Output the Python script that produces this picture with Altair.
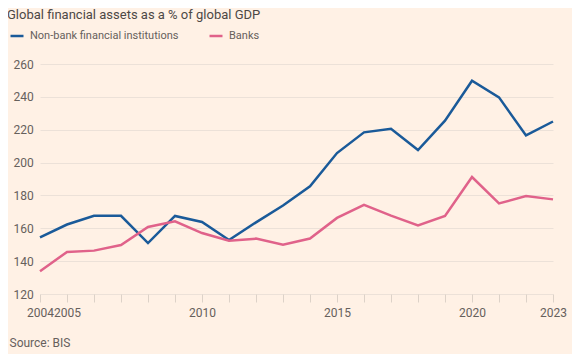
import altair as alt
import pandas as pd

years = list(range(2004, 2024))
nonbank = [154.4, 162.3, 167.6, 167.6, 151.0, 167.5, 163.8, 152.9, 163.6, 173.9,
           185.5, 205.8, 218.4, 220.6, 207.6, 225.5, 249.8, 239.7, 216.5, 225.0]
banks = [133.8, 145.6, 146.4, 149.8, 160.8, 164.2, 157.1, 152.4, 153.7, 150.0,
         153.8, 166.3, 174.2, 167.7, 161.8, 167.5, 191.2, 175.1, 179.6, 177.6]
series_names = ["Non-bank financial institutions", "Banks"]
series_colors = ["#1a5a99", "#e0628a"]
label_years = [2004, 2005, 2010, 2015, 2020, 2023]
y_ticks = [120, 140, 160, 180, 200, 220, 240, 260]

df = pd.DataFrame({
    "year": years * 2,
    "value": nonbank + banks,
    "series": [series_names[0]] * len(years) + [series_names[1]] * len(years),
})

FONT = "Roboto"
BG = "#FFF1E5"

chart = alt.Chart(df).mark_line(strokeWidth=2.5, strokeJoin="miter").encode(
    x=alt.X("year:Q",
            scale=alt.Scale(domain=[2004, 2023], nice=False, zero=False),
            axis=alt.Axis(values=years, format="d", grid=False, domain=False,
                          tickSize=8, tickColor="#ddd2c8", tickWidth=1,
                          labelExpr="indexof(%s, datum.value) >= 0 ? datum.label : ''" % str(label_years),
                          labelOverlap=False, labelFlush=False, labelPadding=5,
                          labelFontSize=12, labelColor="#66605c", labelFont=FONT,
                          title="Source: BIS", titleFont=FONT, titleFontSize=12,
                          titleFontWeight="normal", titleColor="#66605c",
                          titleAnchor="start", titleAlign="left", titleX=-31, titleY=43)),
    y=alt.Y("value:Q",
            scale=alt.Scale(domain=[120, 260], nice=False, zero=False),
            axis=alt.Axis(values=y_ticks, grid=True, gridColor="#ece1d8", domain=False,
                          ticks=False, labelAlign="left", labelPadding=27,
                          labelBaseline="middle",
                          labelFontSize=12, labelColor="#66605c", labelFont=FONT,
                          title=None)),
    color=alt.Color("series:N",
                    scale=alt.Scale(domain=series_names, range=series_colors),
                    legend=alt.Legend(title=None, orient="none", legendX=-31, legendY=-36,
                                      direction="horizontal", symbolType="stroke",
                                      symbolSize=169, symbolStrokeWidth=2.5,
                                      labelFont=FONT, labelFontSize=11, labelColor="#66605c",
                                      labelLimit=0, labelOffset=5, columnPadding=25,
                                      padding=0)),
).properties(
    width=513,
    height=230,
    title=alt.TitleParams("Global financial assets as a % of global GDP",
                          anchor="start", dx=-2, font=FONT, fontSize=13,
                          fontWeight="normal", color="#4d4845", offset=6),
    background=BG,
    padding={"left": 32, "top": 56, "right": 19, "bottom": 60},
    autosize=alt.AutoSizeParams(type="none"),
).configure_view(stroke=None)

chart.save("out.html", embed_options={"renderer": "svg", "actions": False})
